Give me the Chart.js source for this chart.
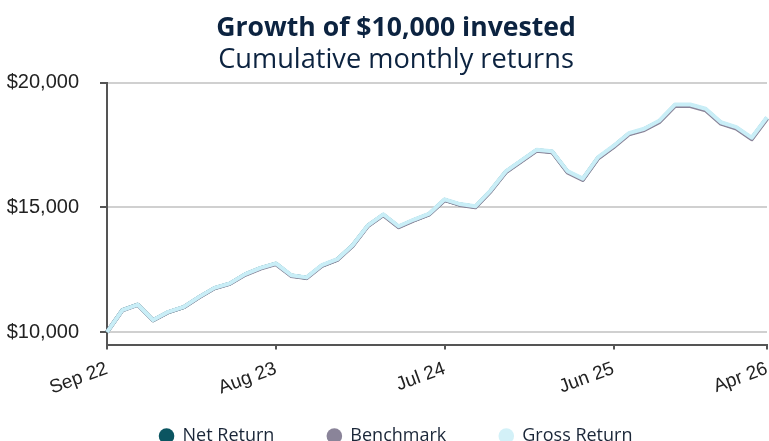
<!DOCTYPE html>
<html>
<head>
<meta charset="utf-8">
<script src="https://cdn.jsdelivr.net/npm/chart.js@4.4.1/dist/chart.umd.min.js"></script>
<style>
  html, body { margin: 0; padding: 0; background: #ffffff; }
  #wrap { width: 769px; height: 441px; }
</style>
</head>
<body>
<div id="wrap"><canvas id="c" width="769" height="441"></canvas></div>
<script>
const months = ['Sep 22','Oct 22','Nov 22','Dec 22','Jan 23','Feb 23','Mar 23','Apr 23','May 23','Jun 23','Jul 23','Aug 23',
  'Sep 23','Oct 23','Nov 23','Dec 23','Jan 24','Feb 24','Mar 24','Apr 24','May 24','Jun 24','Jul 24',
  'Aug 24','Sep 24','Oct 24','Nov 24','Dec 24','Jan 25','Feb 25','Mar 25','Apr 25','May 25','Jun 25',
  'Jul 25','Aug 25','Sep 25','Oct 25','Nov 25','Dec 25','Jan 26','Feb 26','Mar 26','Apr 26'];
const tickLabels = ['Sep 22','Aug 23','Jul 24','Jun 25','Apr 26'];
const yTicks = [10000, 15000, 20000];

const netReturn = [10000,10875,11095,10475,10800,11000,11400,11760,11940,12310,12560,12740,
  12265,12175,12665,12905,13465,14265,14700,14220,14490,14730,15300,
  15110,15020,15660,16430,16860,17290,17230,16425,16125,16985,17435,
  17945,18125,18450,19090,19090,18920,18380,18180,17760,18580];
const benchmark = [10000,10870,11090,10470,10795,10995,11390,11750,11930,12295,12545,12725,
  12250,12160,12650,12890,13450,14250,14685,14205,14475,14715,15285,
  15095,15000,15640,16410,16840,17270,17210,16400,16100,16960,17410,
  17920,18100,18420,19060,19060,18890,18350,18150,17730,18550];
const grossReturn = [10000,10880,11100,10480,10810,11010,11410,11770,11950,12320,12570,12750,
  12280,12190,12680,12920,13480,14280,14720,14240,14510,14750,15320,
  15130,15040,15680,16450,16880,17310,17250,16450,16150,17010,17460,
  17970,18150,18480,19120,19120,18950,18410,18210,17790,18610];

const axisFont = { family: "'Liberation Sans', Arial, sans-serif", size: 20 };
const xFont = { family: "'Liberation Sans', Arial, sans-serif", size: 19 };
const textFont = "'Open Sans', 'Noto Sans', sans-serif";

// keep tick labels from being clipped to the (deliberately tight) axis boxes
const labelClipFix = {
  id: 'labelClipFix',
  afterLayout(chart) {
    chart.scales.x.bottom = chart.height;
    chart.scales.y.left = 0;
  }
};

new Chart(document.getElementById('c'), {
  type: 'line',
  plugins: [labelClipFix],
  data: {
    labels: months,
    datasets: [
      { label: 'Net Return', data: netReturn, borderColor: '#0b5561', backgroundColor: '#0b5561', order: 2 },
      { label: 'Benchmark', data: benchmark, borderColor: '#8a8499', backgroundColor: '#8a8499', order: 1 },
      { label: 'Gross Return', data: grossReturn, borderColor: '#c9eef7', backgroundColor: '#d3f1f8', order: 0 }
    ]
  },
  options: {
    responsive: false,
    devicePixelRatio: 1,
    animation: false,
    elements: {
      line: { borderWidth: 4, tension: 0, borderJoinStyle: 'round' },
      point: { radius: 0, hoverRadius: 0 }
    },
    layout: { padding: { left: 25, right: 2, top: 0, bottom: -14 } },
    plugins: {
      tooltip: { enabled: false },
      title: {
        display: true,
        text: 'Growth of $10,000 invested',
        color: '#0c2340',
        font: { family: textFont, size: 26.6, weight: 'bold' },
        padding: { top: 12, bottom: 0 }
      },
      subtitle: {
        display: true,
        text: 'Cumulative monthly returns',
        color: '#0c2340',
        font: { family: textFont, size: 27.2, weight: 'normal' },
        padding: { top: 0, bottom: 6 }
      },
      legend: {
        position: 'bottom',
        labels: {
          usePointStyle: true,
          pointStyle: 'circle',
          boxWidth: 14,
          boxHeight: 11,
          padding: 53,
          color: '#1a2638',
          font: { family: textFont, size: 18 },
          sort: (a, b) => a.datasetIndex - b.datasetIndex,
          generateLabels: (chart) => Chart.defaults.plugins.legend.labels.generateLabels(chart)
            .map(l => Object.assign({}, l, { lineWidth: 0 }))
        }
      }
    },
    scales: {
      x: {
        afterBuildTicks: (s) => { s.ticks = s.ticks.filter(t => tickLabels.includes(months[t.value])); },
        afterFit: (s) => { s.height = 29.5; s.paddingRight = 0; s.paddingLeft = 0; },
        ticks: { autoSkip: false, minRotation: 20, maxRotation: 20, color: '#222', font: xFont, padding: 8 },
        grid: { drawOnChartArea: false, drawTicks: true, tickLength: 5, tickColor: '#555', lineWidth: 2 },
        border: { color: '#555', width: 2 }
      },
      y: {
        min: 9500,
        max: 20000,
        afterBuildTicks: (s) => { s.ticks = yTicks.map(v => ({ value: v })); },
        afterFit: (s) => { s.width = 82; },
        ticks: { color: '#222', font: axisFont, padding: 21,
          callback: (v) => '$' + Number(v).toLocaleString('en-US') },
        grid: { color: '#d0d0d0', lineWidth: 2, tickColor: '#555', tickLength: 7, drawTicks: true },
        border: { color: '#555', width: 2 }
      }
    }
  }
});
</script>
</body>
</html>
